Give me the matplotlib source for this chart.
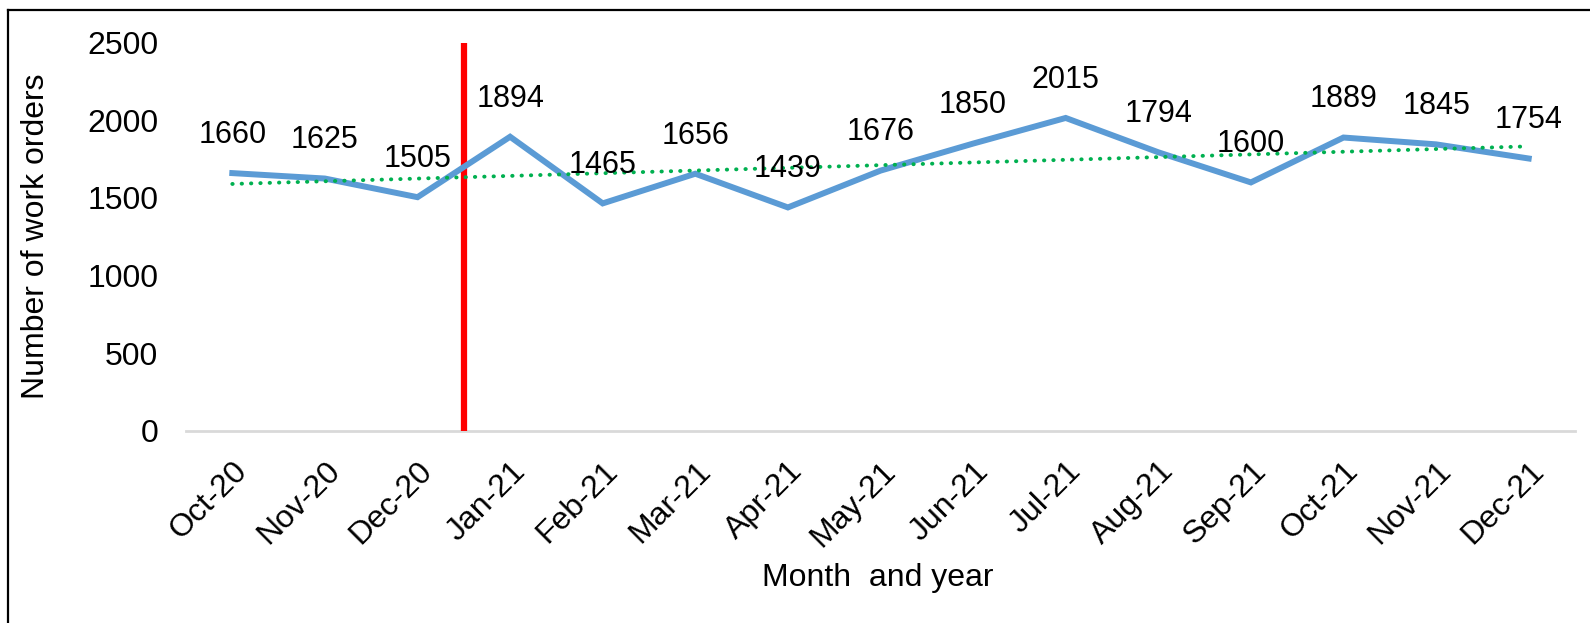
import matplotlib
matplotlib.use("Agg")
import matplotlib.pyplot as plt
from matplotlib.lines import Line2D
import numpy as np

plt.rcParams['font.family'] = ['Liberation Sans', 'DejaVu Sans']

months = ["Oct-20", "Nov-20", "Dec-20", "Jan-21", "Feb-21", "Mar-21", "Apr-21",
          "May-21", "Jun-21", "Jul-21", "Aug-21", "Sep-21", "Oct-21", "Nov-21", "Dec-21"]
work_orders = [1660, 1625, 1505, 1894, 1465, 1656, 1439, 1676, 1850, 2015,
               1794, 1600, 1889, 1845, 1754]
y_ticks = [0, 500, 1000, 1500, 2000, 2500]
intervention_pos = 2.5  # between Dec-20 and Jan-21

W, H = 1590, 623
fig = plt.figure(figsize=(W / 100, H / 100), dpi=100)
ax = fig.add_axes([186 / W, 1 - 431 / H, (1575 - 186) / W, (431 - 42.6) / H])

x = np.arange(len(months))
ax.plot(x, work_orders, color="#5B9BD5", lw=4.3, solid_joinstyle="miter", zorder=3)

# linear trendline
coef = np.polyfit(x, work_orders, 1)
ax.plot(x, np.polyval(coef, x), color="#00B050", lw=2.8, linestyle=(0, (0.1, 2.3)),
        dash_capstyle="round", zorder=4)

ax.axvline(intervention_pos, color="#FF0000", lw=4.5, zorder=2)

for xi, v in zip(x, work_orders):
    ax.annotate(str(v), (xi, v), xytext=(0, 27.5), textcoords="offset points",
                ha="center", va="center", fontsize=22, color="black", zorder=5)

ax.set_xlim(-0.5, len(months) - 0.5)
ax.set_ylim(0, 2500)
ax.set_yticks(y_ticks)
ax.set_yticklabels([str(t) for t in y_ticks], fontsize=23)
ax.set_xticks(x)
ax.set_xticklabels(months, fontsize=23, rotation=45, ha="right", va="top",
                   rotation_mode="anchor")
ax.tick_params(axis="both", length=0)
ax.tick_params(axis="y", pad=20)
ax.tick_params(axis="x", pad=18)
for s in ["top", "right", "left"]:
    ax.spines[s].set_visible(False)
ax.spines["bottom"].set_color("#D9D9D9")
ax.spines["bottom"].set_linewidth(2)
ax.spines["bottom"].set_zorder(1)

fig.text(36 / W, 1 - 236 / H, "Number of work orders", rotation=90,
         ha="center", va="center", fontsize=23)
fig.text(878 / W, 1 - 578 / H, "Month  and year", ha="center", va="center", fontsize=23)

# outer chart frame (left and top edges visible)
fig.add_artist(Line2D([8.3 / W, 8.3 / W], [0, 1 - 10 / H], transform=fig.transFigure,
                      color="black", lw=1.6))
fig.add_artist(Line2D([8.3 / W, 1], [1 - 10 / H, 1 - 10 / H], transform=fig.transFigure,
                      color="black", lw=1.6))

fig.savefig("out.png", dpi=100)
